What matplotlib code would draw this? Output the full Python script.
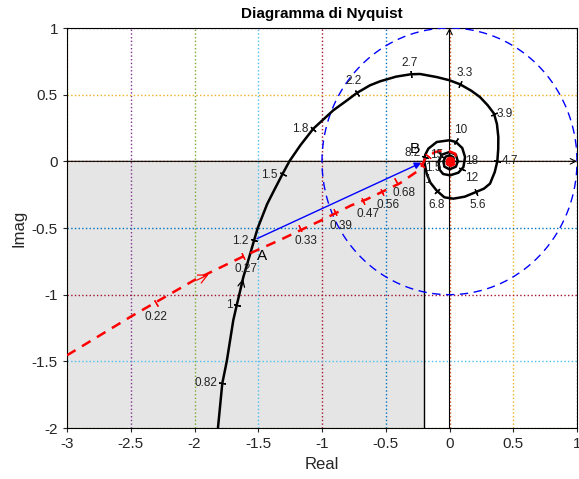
import numpy as np
import matplotlib
matplotlib.use("Agg")
import matplotlib.pyplot as plt

plt.rcParams["font.family"] = ["Liberation Sans", "DejaVu Sans"]

# Nyquist curve of the plant (black)
black_x = [-1.816, -1.782, -1.747, -1.696, -1.669, -1.649, -1.617, -1.559, -1.533,
           -1.504, -1.43, -1.376, -1.308, -1.256, -1.17, -1.068, -0.911, -0.80,
           -0.728, -0.624, -0.545, -0.42, -0.304, -0.231, -0.10, 0.0, 0.082,
           0.17, 0.239, 0.30, 0.349, 0.372, 0.383, 0.382, 0.375, 0.355, 0.318,
           0.27, 0.208, 0.12, 0.03, -0.04, -0.10, -0.15, -0.179, -0.198, -0.19,
           -0.166, -0.10, 0.0, 0.05, 0.10, 0.122, 0.109, 0.07, 0.004, -0.05,
           -0.08, -0.085, -0.06, 0.0, 0.05, 0.065, 0.05, 0.0, -0.04, -0.048,
           -0.03, 0.0, 0.03, 0.035, 0.015, -0.01, -0.02, -0.01, 0.005, 0.01, 0.0]
black_y = [-2.0, -1.665, -1.5, -1.193, -1.08, -1.0, -0.868, -0.68, -0.593,
           -0.5, -0.32, -0.218, -0.092, 0.0, 0.12, 0.245, 0.383, 0.46,
           0.512, 0.570, 0.600, 0.635, 0.653, 0.655, 0.632, 0.608, 0.578,
           0.53, 0.482, 0.42, 0.358, 0.28, 0.182, 0.09, 0.0, -0.08, -0.167,
           -0.205, -0.23, -0.265, -0.28, -0.27, -0.22, -0.16, -0.092, 0.0, 0.05,
           0.095, 0.145, 0.158, 0.145, 0.1, 0.032, -0.043, -0.085, -0.105, -0.095,
           -0.06, 0.0, 0.05, 0.07, 0.05, 0.0, -0.04, -0.06, -0.04, 0.0,
           0.035, 0.045, 0.03, 0.0, -0.025, -0.028, -0.01, 0.01, 0.015, 0.0, -0.005]

black_w = ["0.82", "1", "1.2", "1.5", "1.8", "2.2", "2.7", "3.3", "3.9",
           "4.7", "5.6", "6.8", "8.2", "10", "12", "15", "18"]
black_tx = [-1.782, -1.669, -1.533, -1.308, -1.068, -0.728, -0.304, 0.082, 0.349,
            0.375, 0.208, -0.10, -0.195, 0.05, 0.10, -0.07, 0.07]
black_ty = [-1.665, -1.08, -0.593, -0.092, 0.245, 0.512, 0.653, 0.578, 0.358,
            0.0, -0.23, -0.22, 0.03, 0.15, -0.06, 0.05, 0.0]

# Nyquist curve with the compensator (red dashed)
red_x = [-3.0, -2.5, -2.0, -1.6, -1.33, -1.0, -0.77, -0.65, -0.39, -0.23,
         -0.19, -0.114, -0.022, 0.043, 0.056, 0.04, 0.01, -0.02, -0.025, 0.0,
         0.02, 0.015, 0.0]
red_y = [-1.455, -1.165, -0.89, -0.705, -0.59, -0.44, -0.33, -0.285, -0.165, -0.06,
         0.02, 0.07, 0.083, 0.058, 0.02, -0.02, -0.035, -0.02, 0.01, 0.025,
         0.01, -0.01, -0.012]

red_w = ["0.22", "0.27", "0.33", "0.39", "0.47", "0.56", "0.68", "1", "1.5"]
red_tx = [-2.30, -1.62, -1.17, -0.90, -0.68, -0.53, -0.42, -0.215, -0.17]
red_ty = [-1.06, -0.71, -0.50, -0.38, -0.30, -0.23, -0.15, -0.03, 0.04]

point_a = (-1.51, -0.58)
point_b = (-0.22, -0.01)
x_cut = -0.2

# label offsets in pixels (label centre minus tick, image y down)
black_off = [(-16, 0), (-7, 0), (-14, 1), (-13, 1), (-13, 0), (-3, -12), (-1, -11),
             (5, -11), (11, 0), (13, 0), (2, 13), (0, 14), (-12, -4), (5, -11),
             (9, 9), (-4, 0), (13, 0)]
red_off = [(0, 14), (3, 13), (6, 13), (6, 14), (5, 13), (6, 13), (8, 12), (5, 15), (5, 12)]

matlab = ["#0072BD", "#D95319", "#EDB120", "#7E2F8E", "#77AC30", "#4DBEEE", "#A2142F"]

fig = plt.figure(figsize=(5.79, 4.79), dpi=100)
ax = fig.add_axes([67 / 579, 1 - 428 / 479, 510 / 579, 400 / 479])
ax.set_xlim(-3, 1)
ax.set_ylim(-2, 1)

ax.fill_between([-3, x_cut], -2, 0, color="#e5e5e5", lw=0, zorder=0)

xg = np.arange(-3, 1.01, 0.5)
for i, v in enumerate(xg):
    ax.axvline(v, color=matlab[(i + 2) % 7], ls=":", lw=1, zorder=1)
yg = np.arange(-2, 1.01, 0.5)
for i, v in enumerate(yg):
    ax.axhline(v, color=matlab[(i + 4) % 7], ls=":", lw=1, zorder=1)

ax.plot([x_cut, x_cut], [-2, 0], color="black", lw=1, zorder=2)
ax.annotate("", xy=(1, 0), xytext=(-3, 0),
            arrowprops=dict(arrowstyle="->", color="black", lw=0.8, shrinkA=0, shrinkB=0), zorder=2)
ax.annotate("", xy=(0, 1), xytext=(0, -2),
            arrowprops=dict(arrowstyle="->", color="black", lw=0.8, shrinkA=0, shrinkB=0), zorder=2)

t = np.linspace(0, 2 * np.pi, 300)
ax.plot(np.cos(t), np.sin(t), color="blue", ls=(0, (6, 4)), lw=1, zorder=3)

ax.plot(black_x, black_y, color="black", lw=1.8, zorder=4)
ax.plot(red_x, red_y, color="red", ls=(0, (4, 3)), lw=1.8, zorder=5)
ax.plot([0], [0], "o", color="red", ms=6, zorder=6)

ax.annotate("", xy=point_b, xytext=point_a,
            arrowprops=dict(arrowstyle="-|>", color="blue", lw=1, shrinkA=0, shrinkB=0,
                            mutation_scale=10), zorder=5)


def tick_marks(xs, ys, tx, ty, labels, offs, color):
    px = ax.transData.transform(np.column_stack([xs, ys]))
    for x0, y0, lab, (dx, dy) in zip(tx, ty, labels, offs):
        p = ax.transData.transform((x0, y0))
        k = np.argmin(np.hypot(px[:, 0] - p[0], px[:, 1] - p[1]))
        a, b = px[max(k - 1, 0)], px[min(k + 1, len(px) - 1)]
        ang = np.degrees(np.arctan2(b[1] - a[1], b[0] - a[0]))
        ax.plot([x0], [y0], marker=(2, 2, ang), ms=5, mew=0.9, color=color, zorder=6)
        ax.annotate(lab, (x0, y0), xytext=(dx, -dy), textcoords="offset pixels",
                    ha="center", va="center", fontsize=8.5, color="#222222", zorder=7)


tick_marks(black_x, black_y, black_tx, black_ty, black_w, black_off, "black")
tick_marks(red_x, red_y, red_tx, red_ty, red_w, red_off, "red")

# direction arrows
ax.annotate("", xy=(-1.615, -0.86), xytext=(-1.64, -0.97),
            arrowprops=dict(arrowstyle="->", color="black", lw=0.9, mutation_scale=12))
ax.annotate("", xy=(-1.87, -0.84), xytext=(-2.0, -0.9),
            arrowprops=dict(arrowstyle="->", color="red", lw=0.9, mutation_scale=16))

ax.text(-1.47, -0.71, "A", fontsize=11, ha="center", va="center", zorder=7)
ax.text(-0.27, 0.09, "B", fontsize=11, ha="center", va="center", zorder=7)

ax.set_xticks(xg)
ax.set_xticklabels(["-3", "-2.5", "-2", "-1.5", "-1", "-0.5", "0", "0.5", "1"])
ax.set_yticks(yg)
ax.set_yticklabels(["-2", "-1.5", "-1", "-0.5", "0", "0.5", "1"])
ax.tick_params(labelsize=11, length=3, colors="#262626")
ax.set_xlabel("Real", fontsize=12, color="#262626")
ax.set_ylabel("Imag", fontsize=12, color="#262626")
ax.set_title("Diagramma di Nyquist", fontsize=11, fontweight="bold", pad=7)
for s in ax.spines.values():
    s.set_linewidth(0.8)

fig.savefig("out.png", dpi=100)
